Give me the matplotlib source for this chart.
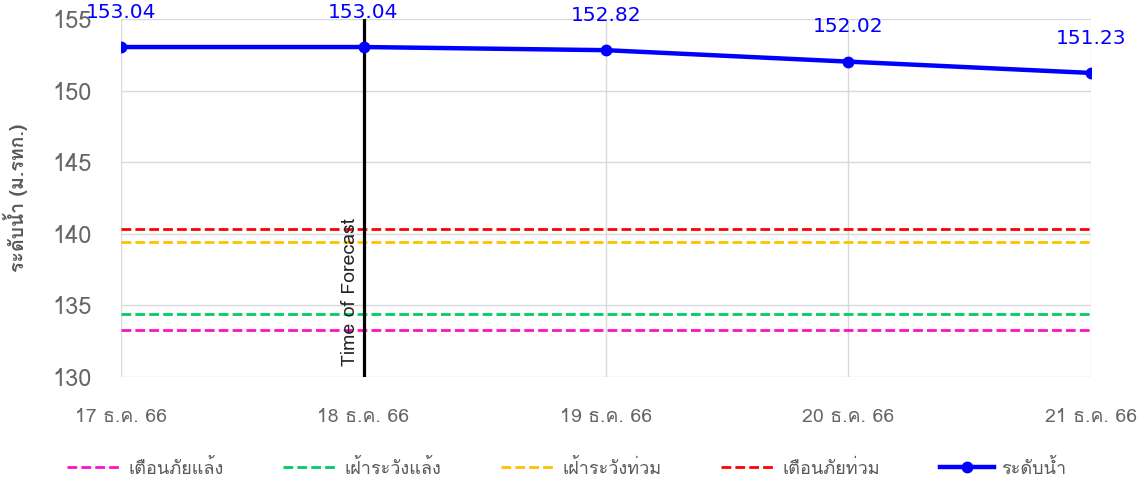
import matplotlib
matplotlib.use("Agg")
import matplotlib.pyplot as plt
from matplotlib import font_manager, ft2font

dates = ["17 ธ.ค. 66", "18 ธ.ค. 66", "19 ธ.ค. 66", "20 ธ.ค. 66", "21 ธ.ค. 66"]
water_level = [153.04, 153.04, 152.82, 152.02, 151.23]
warn_dry = [133.3, 133.3, 133.3, 133.3, 133.3]
watch_dry = [134.4, 134.4, 134.4, 134.4, 134.4]
watch_flood = [139.4, 139.4, 139.4, 139.4, 139.4]
warn_flood = [140.3, 140.3, 140.3, 140.3, 140.3]
forecast_idx = 1


def thai_family():
    # หา font ที่มีอักษรไทย
    for f in font_manager.fontManager.ttflist:
        try:
            if 0x0E23 in ft2font.FT2Font(f.fname).get_charmap():
                return f.name
        except Exception:
            pass
    return "DejaVu Sans"


fam = thai_family()
plt.rcParams["font.family"] = [fam, "DejaVu Sans"]

fig = plt.figure(figsize=(11.45, 4.86), dpi=100)
ax = fig.add_axes([0.1057, 0.2243, 0.8471, 0.7367])
x = list(range(len(dates)))

styles = [
    (warn_dry, "#FF10C8", "เตือนภัยแล้ง"),
    (watch_dry, "#00CC66", "เฝ้าระวังแล้ง"),
    (watch_flood, "#FFC000", "เฝ้าระวังท่วม"),
    (warn_flood, "#FF0000", "เตือนภัยท่วม"),
]
for vals, c, lab in styles:
    ax.plot(x, vals, color=c, lw=2, linestyle=(0, (3.5, 1.5)), label=lab)

ax.plot(x, water_level, color="#0000FF", lw=3.2, marker="o", ms=7.5, label="ระดับน้ำ", zorder=5)
for xi, v in zip(x, water_level):
    ax.annotate(f"{v:.2f}", (xi, v), xytext=(0, 25), textcoords="offset points",
                ha="center", va="center", color="#0000FF", fontsize=14.5, clip_on=False,
                family=["DejaVu Sans"])

ax.axvline(forecast_idx, color="black", lw=2.3, zorder=4)
ax.text(forecast_idx - 0.02, 130.8, "Time of Forecast", rotation=90, ha="right", va="bottom",
        fontsize=14, color="#222222")

ax.set_xlim(0, 4)
ax.set_ylim(130, 155)
ax.set_xticks(x)
ax.set_xticklabels(dates)
ax.set_yticks(range(130, 156, 5))
ax.grid(True, color="#D9D9D9", lw=1)
ax.set_axisbelow(True)
for s in ax.spines.values():
    s.set_visible(False)
ax.tick_params(length=0, colors="#666666")
ax.tick_params(axis="x", pad=22, labelsize=14)
ax.tick_params(axis="y", pad=21, labelsize=17)
ax.set_ylabel("ระดับน้ำ (ม.รทก.)", fontsize=14, fontweight="bold", color="#595959")
ax.yaxis.set_label_coords(-0.096, 0.5)

fig.legend(loc="center", bbox_to_anchor=(0.495, 0.037), ncol=5, frameon=False,
           fontsize=13, handlelength=3.0, columnspacing=3.3, handletextpad=0.4,
           labelcolor="#595959")

fig.savefig("out.png", dpi=100)
